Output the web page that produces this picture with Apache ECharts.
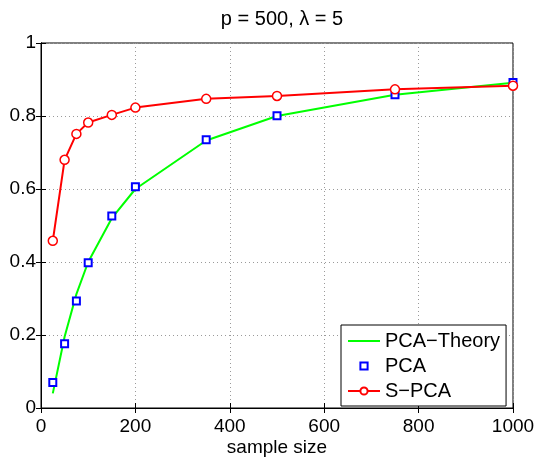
<!DOCTYPE html>
<html>
<head>
<meta charset="utf-8">
<script src="https://cdn.jsdelivr.net/npm/echarts@6/dist/echarts.min.js"></script>
<style>
html,body{margin:0;padding:0;background:#fff;}
#c{width:538px;height:457px;}
</style>
</head>
<body>
<div id="c"></div>
<script>
const titleText = 'p = 500, \u03bb = 5';
const xName = 'sample size';
const sampleSizes = [25, 50, 75, 100, 150, 200, 350, 500, 750, 1000];
const pcaTheory = [0.04, 0.195, 0.312, 0.40, 0.52, 0.60, 0.733, 0.80, 0.858, 0.891];
const pca = [0.070, 0.176, 0.293, 0.398, 0.526, 0.606, 0.735, 0.801, 0.858, 0.892];
const spca = [0.458, 0.680, 0.751, 0.782, 0.803, 0.823, 0.847, 0.855, 0.873, 0.883];
const seriesNames = ['PCA\u2212Theory', 'PCA', 'S\u2212PCA'];

const pairs = (xs, ys) => xs.map((x, i) => [x, ys[i]]);
const font = 'Liberation Sans, Arial, Helvetica, sans-serif';
const gridLine = { show: true, lineStyle: { color: '#9a9a9a', type: [1, 3], width: 1 } };

const chart = echarts.init(document.getElementById('c'), null, { renderer: 'canvas' });
chart.setOption({
  animation: false,
  backgroundColor: '#fff',
  title: {
    text: titleText, left: 277, top: 4, textAlign: 'center',
    textStyle: { fontFamily: font, fontSize: 20, fontWeight: 'normal', color: '#000' }
  },
  grid: { left: 41, right: 25, top: 43, bottom: 49, outerBoundsMode: 'none', containLabel: false,
          show: true, borderColor: '#000', borderWidth: 1, backgroundColor: 'transparent' },
  xAxis: [{
    type: 'value', min: 0, max: 1000, interval: 200, position: 'bottom',
    name: xName, nameLocation: 'middle', nameGap: 30, nameMoveOverlap: false,
    nameTextStyle: { fontFamily: font, fontSize: 19, color: '#000', verticalAlign: 'top' },
    axisLine: { show: true, lineStyle: { color: '#000', width: 1 } },
    axisTick: { show: true, inside: true, length: 5, lineStyle: { color: '#000' } },
    axisLabel: { fontFamily: font, fontSize: 19, color: '#000', margin: 9, formatter: v => String(v) },
    splitLine: gridLine
  }, {
    type: 'value', min: 0, max: 1000, interval: 200, position: 'top',
    axisLine: { show: true, lineStyle: { color: '#000', width: 1 } },
    axisTick: { show: true, inside: true, length: 5, lineStyle: { color: '#000' } },
    axisLabel: { show: false }, splitLine: { show: false }
  }],
  yAxis: [{
    type: 'value', min: 0, max: 1, interval: 0.2, position: 'left',
    axisLine: { show: true, lineStyle: { color: '#000', width: 1 } },
    axisTick: { show: true, inside: true, length: 5, lineStyle: { color: '#000' } },
    axisLabel: { fontFamily: font, fontSize: 19, color: '#000', margin: 5 },
    splitLine: gridLine
  }, {
    type: 'value', min: 0, max: 1, interval: 0.2, position: 'right',
    axisLine: { show: true, lineStyle: { color: '#000', width: 1 } },
    axisTick: { show: true, inside: true, length: 5, lineStyle: { color: '#000' } },
    axisLabel: { show: false }, splitLine: { show: false }
  }],
  legend: {
    orient: 'vertical', left: 341, top: 325,
    backgroundColor: '#fff', borderColor: '#000', borderWidth: 1, borderRadius: 0,
    padding: [6, 6, 5, 6], itemWidth: 32, itemHeight: 9, itemGap: 5,
    textStyle: { fontFamily: font, fontSize: 20, color: '#000' },
    data: [
      { name: seriesNames[0], icon: 'path://M0,0h32v2h-32z' },
      { name: seriesNames[1] },
      { name: seriesNames[2] }
    ]
  },
  series: [{
    name: seriesNames[0], type: 'line', data: pairs(sampleSizes, pcaTheory),
    showSymbol: false, symbol: 'none', smooth: false,
    lineStyle: { color: '#00ff00', width: 2 }, itemStyle: { color: '#00ff00' }, z: 2
  }, {
    name: seriesNames[1], type: 'line', data: pairs(sampleSizes, pca),
    symbol: 'rect', symbolSize: 7,
    lineStyle: { width: 0, opacity: 0 },
    itemStyle: { color: '#fff', borderColor: '#0000ff', borderWidth: 2 }, z: 3
  }, {
    name: seriesNames[2], type: 'line', data: pairs(sampleSizes, spca),
    symbol: 'circle', symbolSize: 9,
    lineStyle: { color: '#ff0000', width: 2 },
    itemStyle: { color: '#fff', borderColor: '#ff0000', borderWidth: 1.5 }, z: 4
  }]
});
</script>
</body>
</html>
